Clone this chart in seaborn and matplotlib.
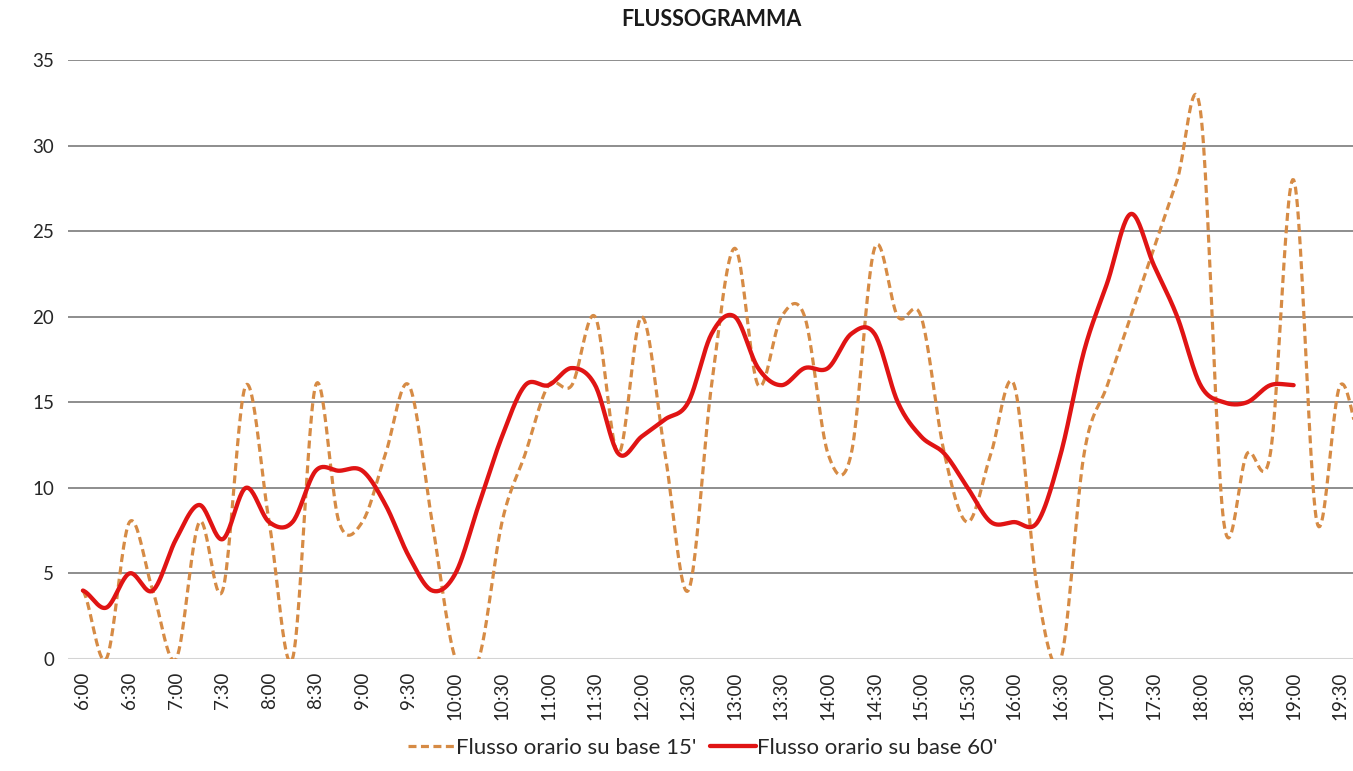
import numpy as np
import pandas as pd
import matplotlib
matplotlib.use("Agg")
import matplotlib.pyplot as plt
import seaborn as sns
from matplotlib.lines import Line2D

# Hourly flow, 15-minute slots from 6:00 to 19:45
slots_15 = ["6:00", "6:15", "6:30", "6:45", "7:00", "7:15", "7:30", "7:45",
            "8:00", "8:15", "8:30", "8:45", "9:00", "9:15", "9:30", "9:45",
            "10:00", "10:15", "10:30", "10:45", "11:00", "11:15", "11:30", "11:45",
            "12:00", "12:15", "12:30", "12:45", "13:00", "13:15", "13:30", "13:45",
            "14:00", "14:15", "14:30", "14:45", "15:00", "15:15", "15:30", "15:45",
            "16:00", "16:15", "16:30", "16:45", "17:00", "17:15", "17:30", "17:45",
            "18:00", "18:15", "18:30", "18:45", "19:00", "19:15", "19:30", "19:45"]

flow_15 = [4, 0, 8, 4, 0, 8, 4, 16, 8, 0, 16, 8, 8, 12, 16, 8,
           0, 0, 8, 12, 16, 16, 20, 12, 20, 12, 4, 16, 24, 16, 20, 20,
           12, 12, 24, 20, 20, 12, 8, 12, 16, 4, 0, 12, 16, 20, 24, 28,
           32, 8, 12, 12, 28, 8, 16, 12]

# Hourly flow on a 60-minute base (6:00 .. 19:00)
flow_60 = [4, 3, 5, 4, 7, 9, 7, 10, 8, 8, 11, 11, 11, 9, 6, 4,
           5, 9, 13, 16, 16, 17, 16, 12, 13, 14, 15, 19, 20, 17, 16, 17,
           17, 19, 19, 15, 13, 12, 10, 8, 8, 8, 12, 18, 22, 26, 23, 20,
           16, 15, 15, 16, 16]

tick_labels = slots_15[::2][:28]

label_15 = "Flusso orario su base 15'"
label_60 = "Flusso orario su base 60'"
title = "FLUSSOGRAMMA"


def smooth_curve(values, steps=24):
    """Catmull-Rom curve through the points, like a spreadsheet 'smoothed line'."""
    v = np.asarray(values, dtype=float)
    p = np.concatenate([[v[0]], v, [v[-1]]])
    xs, ys = [], []
    t = np.linspace(0.0, 1.0, steps, endpoint=False)
    for i in range(len(v) - 1):
        p0, p1, p2, p3 = p[i], p[i + 1], p[i + 2], p[i + 3]
        y = 0.5 * ((2 * p1) + (-p0 + p2) * t + (2 * p0 - 5 * p1 + 4 * p2 - p3) * t ** 2
                   + (-p0 + 3 * p1 - 3 * p2 + p3) * t ** 3)
        xs.append(i + t)
        ys.append(y)
    xs.append([len(v) - 1])
    ys.append([v[-1]])
    return pd.DataFrame({"pos": np.concatenate(xs), "flow": np.concatenate(ys)})


curve_15 = smooth_curve(flow_15)
curve_60 = smooth_curve(flow_60)

sns.set_theme(style="white")
plt.rcParams["font.family"] = ["Lato", "DejaVu Sans"]

W, H = 1353, 771
fig = plt.figure(figsize=(W / 100, H / 100), dpi=100)
ax = fig.add_axes([68 / W, 1 - 659 / H, 1 - 68 / W, (659 - 60) / H])

orange = "#D68B45"
red = "#E01414"

sns.lineplot(data=curve_15, x="pos", y="flow", ax=ax, color=orange,
             linewidth=2.3, sort=False, estimator=None)
ax.lines[-1].set_linestyle((0, (2.5, 1.4)))
ax.lines[-1].set_dash_capstyle("butt")
sns.lineplot(data=curve_60, x="pos", y="flow", ax=ax, color=red,
             linewidth=3.1, sort=False, estimator=None)

ax.set_xlim(-0.64, 54.55)
ax.set_ylim(0, 35)
ax.set_yticks(np.arange(0, 36, 5))
ax.set_xticks(np.arange(0, 55, 2))
ax.set_xticklabels(tick_labels, rotation=90)
ax.tick_params(axis="both", length=0, labelsize=13.5, colors="#262626")
ax.tick_params(axis="y", pad=10)
ax.tick_params(axis="x", pad=9)
ax.set_xlabel("")
ax.set_ylabel("")

for v in range(5, 36, 5):
    ax.axhline(v, color="#7a7a7a", linewidth=1.2, zorder=0)
ax.axhline(0, color="#d4d4d4", linewidth=1.5, zorder=0)
for s in ax.spines.values():
    s.set_visible(False)

fig.text(711 / W, 1 - 20 / H, title, ha="center", va="center",
         fontsize=15.5, fontweight="bold", color="#1a1a1a")

handles = [Line2D([], [], color=orange, linewidth=2.3, linestyle=(0, (2.5, 1.4))),
           Line2D([], [], color=red, linewidth=3.1)]
fig.legend(handles, [label_15, label_60], loc="center", bbox_to_anchor=(703 / W, 1 - 748 / H),
           ncol=2, frameon=False, fontsize=16, handlelength=2.1, handletextpad=0.05,
           columnspacing=0.6, labelcolor="#262626")

fig.savefig("out.png", dpi=100)
